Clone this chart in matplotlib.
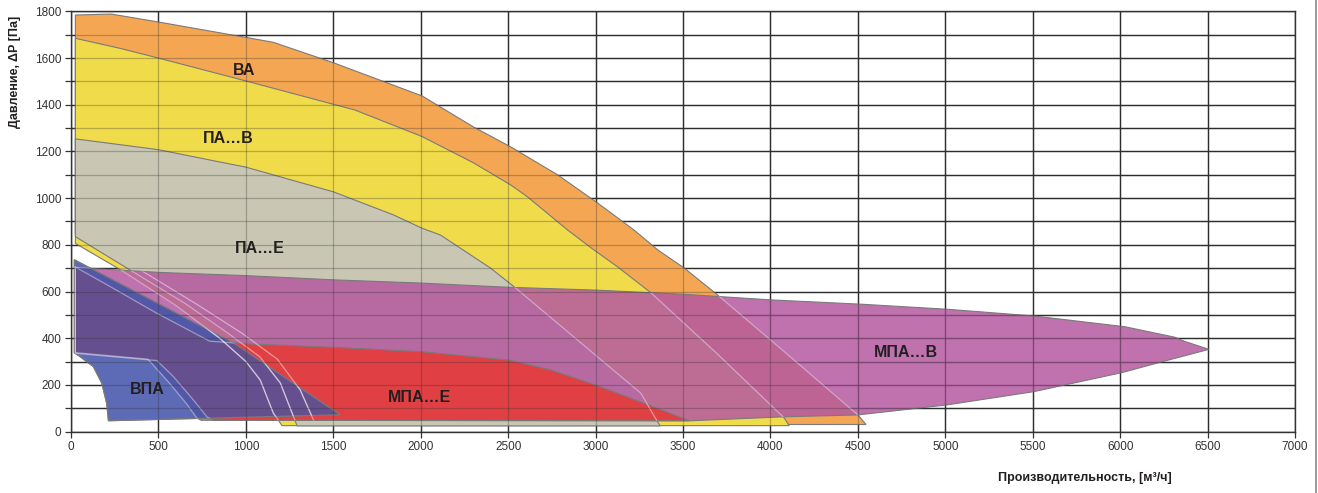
import matplotlib
matplotlib.use("Agg")
import matplotlib.pyplot as plt
from matplotlib.patches import Polygon
from matplotlib.lines import Line2D
from matplotlib.ticker import MultipleLocator

plt.rcParams['font.family'] = ['Liberation Sans', 'DejaVu Sans']

# Working ranges of the fan series: outlines in (flow m3/h, pressure Pa)
va_x = [25, 230, 500, 1000, 1157, 1502, 2008, 2302, 2514, 2783, 3012, 3219, 3356, 3506, 3698, 4100, 4500, 4547,
        1400, 1387, 1311, 1180, 980, 720, 380, 25]
va_y = [1785, 1789, 1755, 1689, 1668, 1580, 1438, 1305, 1220, 1100, 979, 864, 778, 701, 585, 329, 71, 30,
        30, 49, 178, 310, 420, 545, 700, 850]

pab_x = [25, 281, 502, 1002, 1502, 1623, 2008, 2303, 2514, 2610, 2839, 2991, 3125, 3316, 3700, 4079, 4107,
         1207, 1157, 1082, 1000, 850, 600, 290, 25]
pab_y = [1685, 1642, 1600, 1502, 1402, 1378, 1264, 1151, 1057, 1006, 864, 778, 706, 595, 330, 58, 25,
         25, 79, 221, 300, 400, 540, 690, 806]

pae_x = [25, 499, 851, 1000, 1501, 1845, 2008, 2113, 2400, 2533, 3259, 3354, 3370,
         1293, 1273, 1197, 1080, 900, 650, 347, 25]
pae_y = [1254, 1208, 1155, 1133, 1027, 928, 871, 842, 700, 621, 164, 42, 24,
         24, 63, 208, 320, 420, 550, 688, 835]

mpab_x = [25, 499, 1000, 1500, 2007, 2505, 3001, 3507, 4003, 4509, 5010, 5508, 6027, 6313, 6370, 6508,
          6275, 6008, 5508, 5010, 4500, 4079, 3545, 745, 720, 660, 560, 440, 25]
mpab_y = [703, 682, 668, 650, 636, 618, 606, 588, 564, 546, 524, 495, 449, 404, 386, 352,
          306, 252, 171, 114, 71, 63, 46, 48, 57, 120, 210, 310, 338]

mpae_x = [25, 250, 488, 793, 927, 1025, 1502, 2008, 2505, 2743, 3001, 3278, 3536,
          815, 777, 700, 586, 491, 25]
mpae_y = [705, 610, 508, 387, 380, 375, 361, 342, 306, 264, 199, 121, 46,
          48, 63, 135, 235, 304, 335]

vpa_x = [19, 491, 939, 1538, 830, 214, 204, 176, 128, 48, 19]
vpa_y = [736, 551, 375, 72, 58, 46, 121, 207, 278, 323, 337]

# Region captions and their anchor points
label_text = ["ВА", "ПА…В", "ПА…Е", "ВПА", "МПА…Е", "МПА…В"]
label_x = [990, 900, 1080, 437, 1995, 4773]
label_y = [1549, 1254, 785, 178, 147, 338]

x_ticks = list(range(0, 7001, 500))
y_ticks = list(range(0, 1801, 200))

fig = plt.figure(figsize=(13.18, 4.93), dpi=100)
ax = fig.add_axes([71 / 1318, 61.5 / 493, 1224 / 1318, 420 / 493])
ax.set_xlim(0, 7000)
ax.set_ylim(0, 1800)

grid_col = '#2e2e2e'
for gx in x_ticks:
    ax.axvline(gx, color=grid_col, lw=1.0, zorder=0)
for gy in range(0, 1801, 100):
    ax.axhline(gy, color=grid_col, lw=1.0, zorder=0)

edge = '#7a7a7a'


def region(xs, ys, color, z, alpha=1.0):
    p = Polygon(list(zip(xs, ys)), closed=True, facecolor=color, edgecolor='none',
                alpha=alpha, zorder=z)
    ax.add_patch(p)
    e = Polygon(list(zip(xs, ys)), closed=True, facecolor='none', edgecolor=edge,
                lw=0.8, zorder=z + 0.01)
    ax.add_patch(e)
    return p


def tint(xs, ys, color, z, clip):
    # part of an outline lying inside another area, drawn in a blended shade
    p = Polygon(list(zip(xs, ys)), closed=True, facecolor=color, edgecolor='none', zorder=z)
    ax.add_patch(p)
    p.set_clip_path(clip)
    return p


p_va = region(va_x, va_y, '#F4A653', 1)
p_pab = region(pab_x, pab_y, '#F0DB4B', 2)
p_pae = region(pae_x, pae_y, '#C9C7B3', 3)
p_mpab = region(mpab_x, mpab_y, '#B459A0', 4, alpha=0.85)
p_mpae = region(mpae_x, mpae_y, '#E04043', 5)
p_vpa = region(vpa_x, vpa_y, '#5D6BB6', 6)
tint(mpab_x, mpab_y, '#5257A8', 6.02, p_vpa)
tint(mpae_x, mpae_y, '#664F8E', 6.03, p_vpa)
e_vpa = Polygon(list(zip(vpa_x, vpa_y)), closed=True, facecolor='none', edgecolor=edge,
                lw=0.8, zorder=6.05)
ax.add_patch(e_vpa)

# Outlines of covered ranges seen through the overlapping areas
for xs, ys in [(va_x, va_y), (pab_x, pab_y), (pae_x, pae_y)]:
    for clip in (p_mpab, p_vpa):
        ln, = ax.plot(xs + xs[:1], ys + ys[:1], color='white', lw=0.9, alpha=0.45, zorder=6.5)
        ln.set_clip_path(clip)
for xs, ys in [(mpab_x, mpab_y), (mpae_x, mpae_y)]:
    ln, = ax.plot(xs + xs[:1], ys + ys[:1], color='white', lw=0.9, alpha=0.4, zorder=6.5)
    ln.set_clip_path(p_vpa)

# Grid faintly visible over the filled areas
for gx in x_ticks:
    ax.axvline(gx, color=grid_col, lw=0.9, alpha=0.3, zorder=7)
for gy in range(0, 1801, 100):
    ax.axhline(gy, color=grid_col, lw=0.9, alpha=0.3, zorder=7)

for t, lx, ly in zip(label_text, label_x, label_y):
    ax.text(lx, ly, t, ha='center', va='center', fontsize=11.5, fontweight='bold',
            color='#231f20', zorder=10)

ax.set_xticks(x_ticks)
ax.set_yticks(y_ticks)
ax.yaxis.set_minor_locator(MultipleLocator(100))
ax.tick_params(axis='both', which='both', direction='out', length=4, width=0.9,
               color='#333333', labelsize=8.5, labelcolor='#333333', pad=3)
ax.tick_params(axis='y', which='minor', length=4)

for s in ax.spines.values():
    s.set_color('#333333')
    s.set_linewidth(1.0)
    s.set_zorder(8)

fig.text(15 / 1318, 1 - 72 / 493, 'Давление, ΔP [Па]', rotation=90, ha='center', va='center',
         fontsize=9, fontweight='bold', color='#231f20')
fig.text(1085 / 1318, 1 - 478 / 493, 'Производительность, [м³/ч]', ha='center', va='center',
         fontsize=9, fontweight='bold', color='#231f20')

fig.add_artist(Line2D([1316 / 1318, 1316 / 1318], [0, 1], transform=fig.transFigure,
                      color='#8a8a8a', lw=1.2))

fig.savefig('out.png', dpi=100)
